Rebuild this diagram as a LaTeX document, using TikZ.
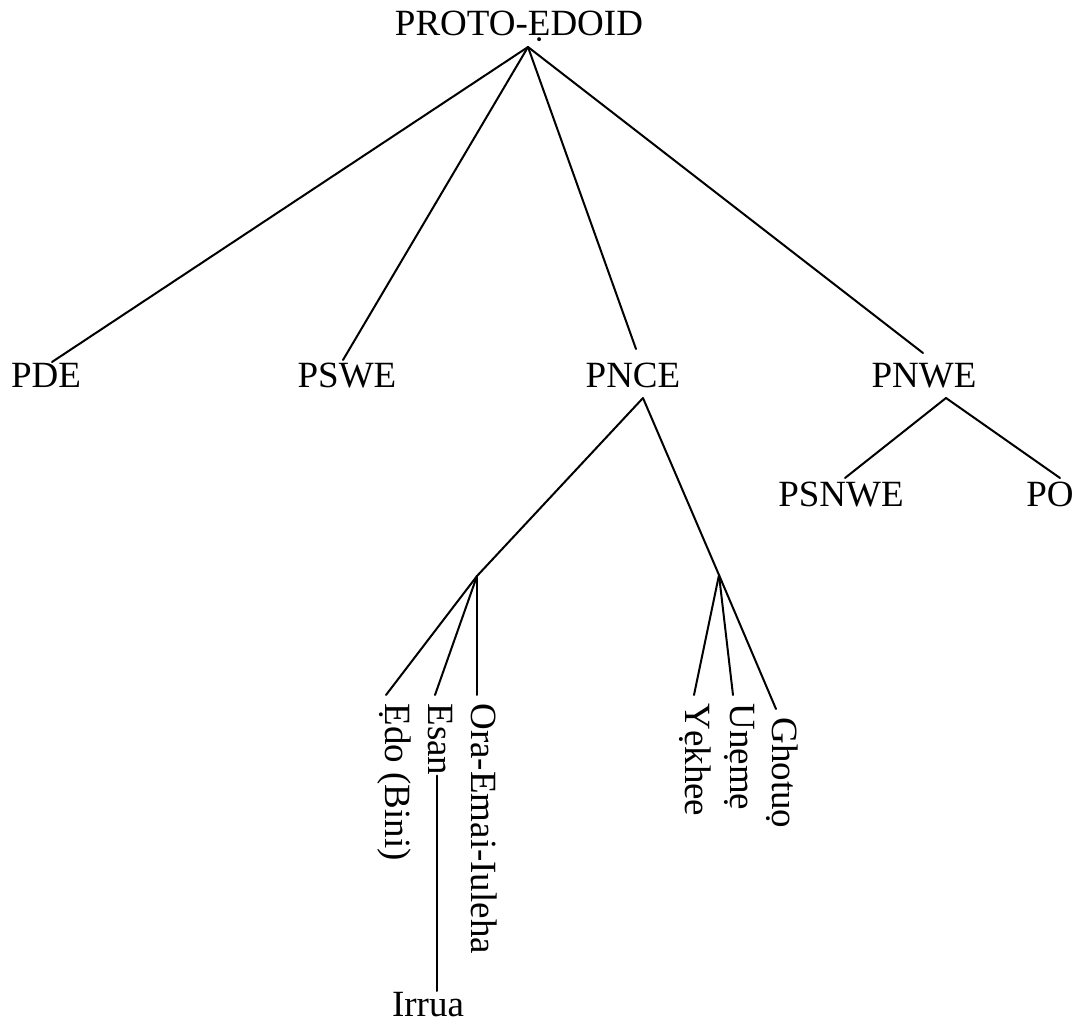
\documentclass[tikz,border=0pt]{standalone}
\usepackage{fontspec}
\setmainfont{Liberation Serif}
\usetikzlibrary{calc}
\begin{document}
\begin{tikzpicture}[x=0.5pt,y=-0.5pt,
  lang/.style={inner sep=0pt,anchor=base,font=\fontsize{18.5}{22}\selectfont},
  vlang/.style={lang,anchor=base west,rotate=-90},
  branch/.style={line width=1pt,line cap=round}]
\useasboundingbox (0,0) rectangle (1078,1026);

% family tree labels
\node[lang] (root)   at (519,36)  {PROTO-ẸDOID};
\node[lang] (pde)    at (46,388)  {PDE};
\node[lang] (pswe)   at (347,388) {PSWE};
\node[lang] (pnce)   at (633,388) {PNCE};
\node[lang] (pnwe)   at (924,388) {PNWE};
\node[lang] (psnwe)  at (841,507) {PSNWE};
\node[lang] (po)     at (1050,507) {PO};
\node[lang] (irrua)  at (428,1016) {Irrua};

% languages written downwards
\node[vlang] (edo)    at (385,703) {Ẹdo (Bini)};
\node[vlang] (esan)   at (428,703) {Esan};
\node[vlang] (ora)    at (471,703) {Ora-Emai-Iuleha};
\node[vlang] (yekhee) at (685,703) {Yẹkhee};
\node[vlang] (uneme)  at (730,703) {Unẹmẹ};
\node[vlang] (ghotuo) at (772,717) {Ghotuọ};

% branching points
\coordinate (apex) at ($(root.base)+(9,11)$);
\coordinate (j1) at (477,576);
\coordinate (j2) at (719,575);
\coordinate (pncefoot) at ($(pnce.base)+(10,10)$);
\coordinate (pnwefoot) at ($(pnwe.base)+(22,10)$);

% branches from the proto-language
\draw[branch] (apex) -- ($(pde.base)+(6,-26)$);
\draw[branch] (apex) -- ($(pswe.base)+(-4,-28)$);
\draw[branch] (apex) -- ($(pnce.base)+(3,-39)$);
\draw[branch] (apex) -- ($(pnwe.base)+(-1,-35)$);

% PNCE subgroups
\draw[branch] (pncefoot) -- (j1);
\draw[branch] (pncefoot) -- (j2);
\draw[branch] (j1) -- ($(edo.base west)+(1,-8)$);
\draw[branch] (j1) -- ($(esan.base west)+(7,-8)$);
\draw[branch] (j1) -- ($(ora.base west)+(6,-8)$);
\draw[branch] (j2) -- ($(yekhee.base west)+(9,-8)$);
\draw[branch] (j2) -- ($(uneme.base west)+(3,-8)$);
\draw[branch] (j2) -- ($(ghotuo.base west)+(4,-8)$);
\draw[branch] ($(esan.base east)+(9,0)$) -- ($(irrua.base)+(9,-25)$);

% PNWE subgroups
\draw[branch] (pnwefoot) -- ($(psnwe.base)+(4,-29)$);
\draw[branch] (pnwefoot) -- ($(po.base)+(10,-29)$);
\end{tikzpicture}
\end{document}
